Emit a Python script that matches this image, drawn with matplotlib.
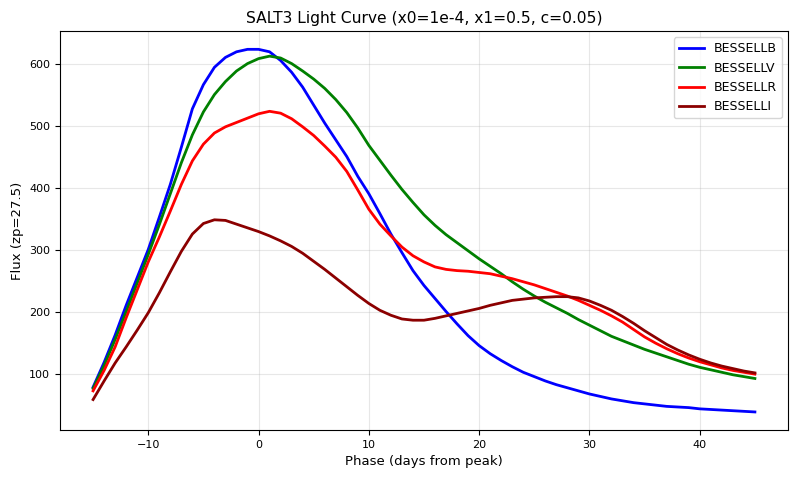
import matplotlib
matplotlib.use("Agg")
import matplotlib.pyplot as plt

phase = list(range(-15, 46))

flux_b = [78, 118, 162, 210, 255, 300, 352, 405, 465, 527, 566, 594, 610, 619, 623, 623,
          619, 605, 586, 562, 533, 504, 477, 450, 418, 390, 358, 325, 295, 266, 242,
          221, 200, 180, 161, 145, 132, 121, 111, 102, 95, 88, 82, 77, 72, 67,
          63, 59, 56, 53, 51, 49, 47, 46, 45, 43, 42, 41, 40, 39, 38]
flux_v = [76, 113, 155, 200, 246, 292, 340, 390, 440, 485, 522, 550, 571, 588, 600, 608,
          612, 609, 600, 588, 575, 560, 542, 521, 496, 468, 444, 420, 397, 376, 356,
          339, 324, 311, 298, 285, 273, 261, 248, 236, 225, 215, 206, 197, 187, 178,
          169, 160, 153, 146, 139, 133, 127, 121, 115, 110, 106, 102, 98, 95, 92]
flux_r = [72, 105, 143, 190, 235, 280, 320, 362, 405, 443, 470, 488, 498, 505, 512, 519,
          523, 520, 511, 498, 484, 467, 449, 426, 396, 365, 341, 322, 304, 290, 280,
          272, 268, 266, 265, 263, 261, 257, 253, 248, 243, 237, 231, 225, 218, 210,
          202, 193, 183, 171, 159, 149, 140, 132, 125, 119, 114, 109, 105, 102, 99]
flux_i = [58, 88, 117, 143, 170, 198, 230, 264, 297, 325, 342, 348, 347, 341, 335, 329,
          322, 314, 305, 294, 281, 268, 254, 240, 226, 213, 202, 194, 188, 186, 186,
          189, 193, 197, 201, 205, 210, 214, 218, 220, 222, 223, 224, 224, 222, 217,
          210, 202, 192, 181, 169, 158, 147, 138, 130, 123, 117, 112, 108, 104, 101]

bands = ["BESSELLB", "BESSELLV", "BESSELLR", "BESSELLI"]
colors = ["blue", "green", "red", "darkred"]

fig, ax = plt.subplots(figsize=(8, 4.8), dpi=100)
for flux, band, col in zip([flux_b, flux_v, flux_r, flux_i], bands, colors):
    ax.plot(phase, flux, color=col, lw=2, label=band)

ax.set_xlabel("Phase (days from peak)", fontsize=9.5)
ax.set_ylabel("Flux (zp=27.5)", fontsize=9.5)
ax.set_title("SALT3 Light Curve (x0=1e-4, x1=0.5, c=0.05)", fontsize=11.2)
ax.tick_params(labelsize=8)
ax.grid(True, alpha=0.3)
ax.legend(fontsize=9)
fig.subplots_adjust(left=0.075, right=0.985, top=0.935, bottom=0.104)
plt.savefig("out.png")
